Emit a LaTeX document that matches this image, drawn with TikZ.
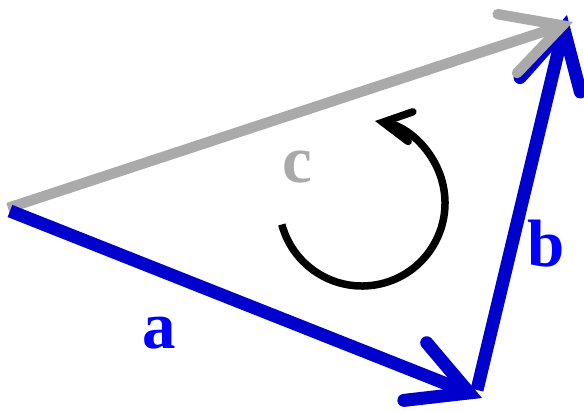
\documentclass[tikz,border=0pt]{standalone}
\usepackage{fontspec}
\setmainfont{Liberation Serif}
\usetikzlibrary{arrows.meta}
\definecolor{lineblue}{RGB}{0,0,204}
\definecolor{textblue}{RGB}{0,0,255}
\definecolor{vgray}{RGB}{170,170,170}
\tikzset{
  vec/.style={line width=#1, line cap=butt, line join=miter},
  bigtip/.style={-{Straight Barb[length=58pt,width=62pt,line cap=round,line join=miter]}},
  smalltip/.style={-{Straight Barb[length=28pt,width=30pt,line cap=round,line join=miter]}},
  lbl/.style={anchor=base, inner sep=0pt, font=\fontsize{67}{70}\selectfont\bfseries}
}
\begin{document}
\begin{tikzpicture}[x=1pt,y=1pt]
\useasboundingbox (0,0) rectangle (584,410);
\coordinate (A) at (10,199);
\coordinate (Ag) at (8,202);
\coordinate (B) at (482,12);
\coordinate (Bs) at (477,20);
\coordinate (C) at (567,395);
\coordinate (Cg) at (573,388);
\coordinate (O) at (362,207);
% b
\draw[vec=13pt, lineblue, bigtip] (Bs) -- (C);
% c
\draw[vec=10.5pt, vgray, bigtip] (Ag) -- (Cg);
% a
\draw[vec=13pt, lineblue, bigtip] (A) -- (B);
% rotation arrow
\draw[line width=7.5pt, line cap=butt, smalltip] ([shift={(195:83pt)}]O) arc[start angle=195, end angle=441, radius=83pt];
% labels
\node[lbl, text=textblue] (la) at (159,62) {a};
\node[lbl, text=textblue] (lb) at (546,143) {b};
\node[lbl, text=vgray] (lc) at (297,227) {c};
\end{tikzpicture}
\end{document}
